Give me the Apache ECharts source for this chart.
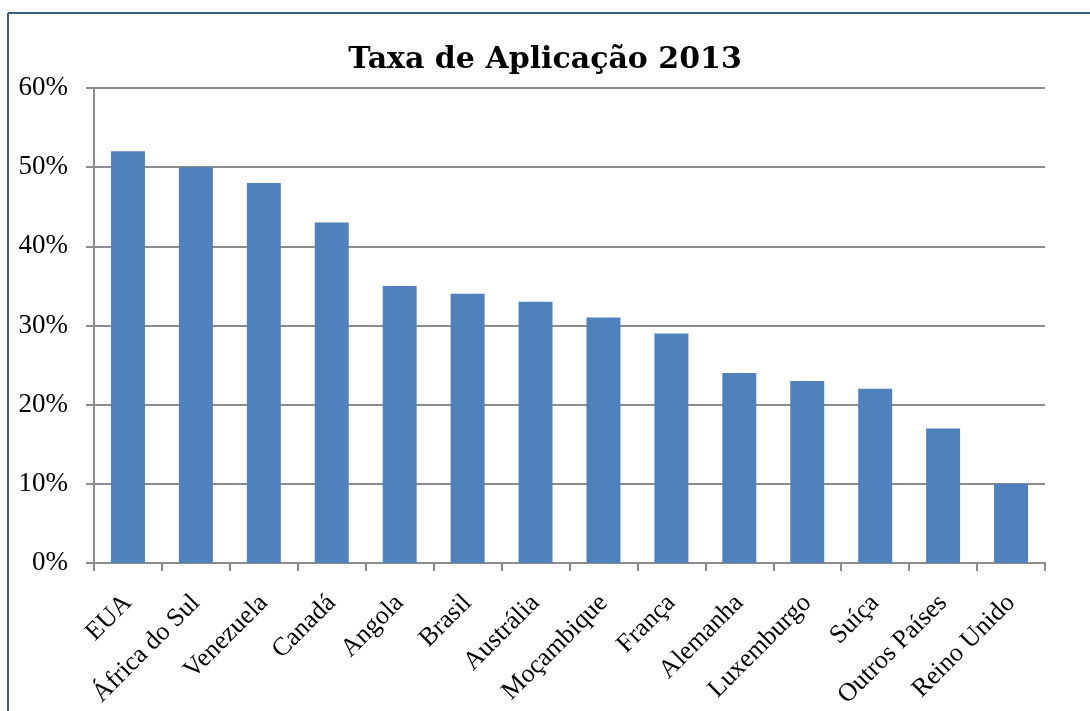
<!DOCTYPE html>
<html>
<head>
<meta charset="utf-8">
<script src="https://cdn.jsdelivr.net/npm/echarts@6/dist/echarts.min.js"></script>
<style>
  html, body { margin: 0; padding: 0; background: #fff; }
  #main { width: 1090px; height: 711px; }
</style>
</head>
<body>
<div id="main"></div>
<script>
var paises = ["EUA", "África do Sul", "Venezuela", "Canadá", "Angola", "Brasil", "Austrália",
  "Moçambique", "França", "Alemanha", "Luxemburgo", "Suíça", "Outros Países", "Reino Unido"];
var taxas = [52, 50, 48, 43, 35, 34, 33, 31, 29, 24, 23, 22, 17, 10];

var myChart = echarts.init(document.getElementById('main'));
myChart.setOption({
  animation: false,
  title: {
    text: 'Taxa de Aplicação 2013',
    left: 'center',
    top: 40,
    textStyle: { fontFamily: 'DejaVu Serif', fontWeight: 'bold', fontSize: 30, color: '#000' }
  },
  graphic: [
    { type: 'line', shape: { x1: 8, y1: 13, x2: 1090, y2: 13 }, style: { stroke: '#3b5b8a', lineWidth: 2 } },
    { type: 'line', shape: { x1: 8, y1: 13, x2: 8, y2: 711 }, style: { stroke: '#3b5b8a', lineWidth: 2 } }
  ],
  grid: { left: 94, right: 45, top: 88, bottom: 148 },
  xAxis: {
    type: 'category',
    data: paises,
    axisLine: { lineStyle: { color: '#8c8c8c', width: 2 } },
    axisTick: { show: true, length: 8, lineStyle: { color: '#8c8c8c', width: 2 } },
    axisLabel: {
      interval: 0, rotate: 45, margin: 36,
      fontFamily: 'Liberation Serif', fontSize: 26, color: '#000'
    }
  },
  yAxis: {
    type: 'value',
    min: 0, max: 60, interval: 10,
    axisLine: { show: true, lineStyle: { color: '#8c8c8c', width: 2 } },
    axisTick: { show: true, length: 8, lineStyle: { color: '#8c8c8c', width: 2 } },
    splitLine: { lineStyle: { color: '#8c8c8c', width: 2 } },
    axisLabel: {
      formatter: '{value}%', margin: 26,
      fontFamily: 'Liberation Serif', fontSize: 27, color: '#000'
    }
  },
  series: [{
    name: 'Taxa',
    type: 'bar',
    data: taxas,
    barCategoryGap: '50%',
    itemStyle: { color: '#4f81bd' }
  }]
});
</script>
</body>
</html>
